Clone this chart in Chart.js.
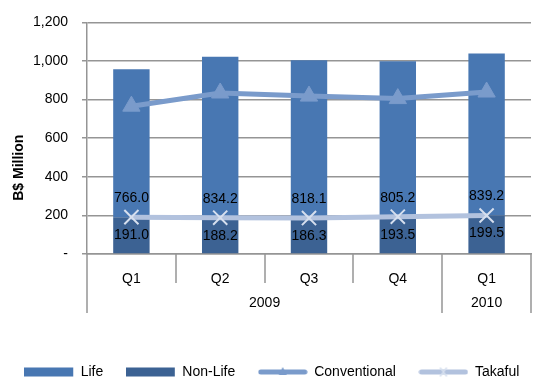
<!DOCTYPE html>
<html>
<head>
<meta charset="utf-8">
<script src="https://cdn.jsdelivr.net/npm/chart.js@4.4.0/dist/chart.umd.min.js"></script>
<style>
  html, body { margin: 0; padding: 0; background: #fff; }
</style>
</head>
<body>
<canvas id="premiumChart" width="558" height="381"></canvas>
<script>
const quarters = ['Q1', 'Q2', 'Q3', 'Q4', 'Q1'];
const yearGroups = [
    { label: '2009', from: 0, to: 3 },
    { label: '2010', from: 4, to: 4 }
];
const lifeValues = [766.0, 834.2, 818.1, 805.2, 839.2];
const nonLifeValues = [191.0, 188.2, 186.3, 193.5, 199.5];
const conventionalValues = [766.0, 834.2, 818.1, 805.2, 839.2];
const takafulValues = [191.0, 188.2, 186.3, 193.5, 199.5];
const yTicks = [0, 200, 400, 600, 800, 1000, 1200];
const legendOrder = ['Life', 'Non-Life', 'Conventional', 'Takaful'];

const FONT = 'Liberation Sans, Arial, sans-serif';
const gridColor = '#959595';
const lifeColor = '#4877B2';
const nonLifeColor = '#3C6293';
const convColor = '#7A9BCB';
const takafulColor = '#B2C2DE';
const crossColor = '#D6DFEE';

// Small canvases used as legend symbols (bar swatch or line with marker)
function legendSymbol(kind, color, markerColor) {
    const c = document.createElement('canvas');
    c.width = 50;
    c.height = 12;
    const g = c.getContext('2d');
    if (kind === 'bar') {
        g.fillStyle = color;
        g.fillRect(0, 1.5, 49, 9);
    } else {
        g.strokeStyle = color;
        g.lineWidth = 5;
        g.lineCap = 'round';
        g.beginPath();
        g.moveTo(3, 6);
        g.lineTo(47, 6);
        g.stroke();
        if (kind === 'triangle') {
            g.fillStyle = markerColor;
            g.beginPath();
            g.moveTo(25, 1);
            g.lineTo(29, 9);
            g.lineTo(21, 9);
            g.closePath();
            g.fill();
        } else {
            g.strokeStyle = markerColor;
            g.lineWidth = 1.5;
            g.beginPath();
            g.moveTo(22, 2); g.lineTo(28, 10);
            g.moveTo(28, 2); g.lineTo(22, 10);
            g.stroke();
        }
    }
    return c;
}

const legendSymbols = {
    'Life': legendSymbol('bar', lifeColor),
    'Non-Life': legendSymbol('bar', nonLifeColor),
    'Conventional': legendSymbol('triangle', convColor, convColor),
    'Takaful': legendSymbol('cross', takafulColor, crossColor)
};

// Two-level category axis: quarter dividers, year row, y-axis title
const categoryAxisPlugin = {
    id: 'categoryAxis',
    afterDraw(chart) {
        const ctx = chart.ctx;
        const x = chart.scales.x;
        const area = chart.chartArea;
        const half = (x.getPixelForValue(1) - x.getPixelForValue(0)) / 2;
        const rowBottom = area.bottom + 29;
        const axisBottom = area.bottom + 59;
        const yearEdges = [];
        yearGroups.forEach(g => { yearEdges.push(g.from, g.to + 1); });

        ctx.save();
        ctx.strokeStyle = gridColor;
        ctx.lineWidth = 1.5;
        for (let i = 0; i <= quarters.length; i++) {
            const px = Math.round(x.getPixelForValue(0) - half + i * half * 2);
            const bottom = yearEdges.includes(i) ? axisBottom : rowBottom;
            ctx.beginPath();
            ctx.moveTo(px, area.bottom);
            ctx.lineTo(px, bottom);
            ctx.stroke();
        }

        ctx.fillStyle = '#000';
        ctx.font = '14px ' + FONT;
        ctx.textAlign = 'center';
        ctx.textBaseline = 'middle';
        yearGroups.forEach(g => {
            const cx = (x.getPixelForValue(g.from) + x.getPixelForValue(g.to)) / 2;
            ctx.fillText(g.label, cx, area.bottom + 49);
        });

        ctx.font = 'bold 14px ' + FONT;
        ctx.translate(19, (area.top + axisBottom) / 2);
        ctx.rotate(-Math.PI / 2);
        ctx.fillText('B$ Million', 0, 0);
        ctx.restore();
    }
};

// Value labels around the Life / Non-Life boundary of each stacked bar
const valueLabelPlugin = {
    id: 'valueLabels',
    afterDatasetsDraw(chart) {
        const ctx = chart.ctx;
        const nonLifeMeta = chart.getDatasetMeta(0);
        ctx.save();
        ctx.fillStyle = '#000';
        ctx.font = '14px ' + FONT;
        ctx.textAlign = 'center';
        ctx.textBaseline = 'middle';
        nonLifeMeta.data.forEach((bar, i) => {
            ctx.fillText(lifeValues[i].toFixed(1), bar.x, bar.y - 19);
            ctx.fillText(nonLifeValues[i].toFixed(1), bar.x, bar.y + 18);
        });
        ctx.restore();
    }
};

const ctx = document.getElementById('premiumChart').getContext('2d');
new Chart(ctx, {
    data: {
        labels: quarters,
        datasets: [
            {
                type: 'bar',
                label: 'Non-Life',
                data: nonLifeValues,
                backgroundColor: nonLifeColor,
                stack: 'premium',
                barPercentage: 0.41,
                categoryPercentage: 1,
                order: 2
            },
            {
                type: 'bar',
                label: 'Life',
                data: lifeValues,
                backgroundColor: lifeColor,
                stack: 'premium',
                barPercentage: 0.41,
                categoryPercentage: 1,
                order: 2
            },
            {
                type: 'line',
                label: 'Conventional',
                data: conventionalValues,
                stack: 'conventional',
                borderColor: convColor,
                backgroundColor: convColor,
                borderWidth: 5,
                pointStyle: 'triangle',
                pointRadius: 10,
                pointBackgroundColor: convColor,
                pointBorderColor: convColor,
                pointBorderWidth: 1,
                tension: 0,
                order: 0
            },
            {
                type: 'line',
                label: 'Takaful',
                data: takafulValues,
                stack: 'takaful',
                borderColor: takafulColor,
                backgroundColor: takafulColor,
                borderWidth: 5,
                pointStyle: 'crossRot',
                pointRadius: 10,
                pointBorderColor: crossColor,
                pointBorderWidth: 2,
                tension: 0,
                order: 0
            }
        ]
    },
    options: {
        responsive: false,
        animation: false,
        layout: { padding: { top: 15, right: 14, left: 0, bottom: -8 } },
        scales: {
            x: {
                stacked: true,
                grid: { display: false },
                border: { color: gridColor, width: 1.5 },
                ticks: { color: '#000', font: { family: FONT, size: 14 }, padding: 9 },
                afterFit(scale) { scale.height = 88; }
            },
            y: {
                stacked: true,
                min: yTicks[0],
                max: yTicks[yTicks.length - 1],
                afterBuildTicks(scale) { scale.ticks = yTicks.map(v => ({ value: v })); },
                grid: { color: gridColor, lineWidth: 1.5, tickLength: 5 },
                border: { color: gridColor, width: 1.5 },
                ticks: {
                    color: '#000',
                    font: { family: FONT, size: 14 },
                    padding: 14,
                    callback: v => v === 0 ? '-' : v.toLocaleString('en-US')
                },
                afterFit(scale) { scale.width = 87; }
            },
            // empty right-hand gutter so the legend can use more of the width
            gutter: {
                type: 'linear',
                position: 'right',
                grid: { display: false },
                border: { display: false },
                ticks: { display: false },
                afterFit(scale) { scale.width = 13; }
            }
        },
        plugins: {
            legend: {
                position: 'bottom',
                labels: {
                    color: '#000',
                    font: { family: FONT, size: 14 },
                    usePointStyle: true,
                    pointStyleWidth: 49,
                    boxHeight: 12,
                    padding: 23,
                    sort: (a, b) => legendOrder.indexOf(a.text) - legendOrder.indexOf(b.text),
                    generateLabels(chart) {
                        const items = Chart.defaults.plugins.legend.labels.generateLabels(chart);
                        items.forEach(item => { item.pointStyle = legendSymbols[item.text]; });
                        return items;
                    }
                }
            },
            tooltip: { enabled: false }
        }
    },
    plugins: [categoryAxisPlugin, valueLabelPlugin]
});
</script>
</body>
</html>
